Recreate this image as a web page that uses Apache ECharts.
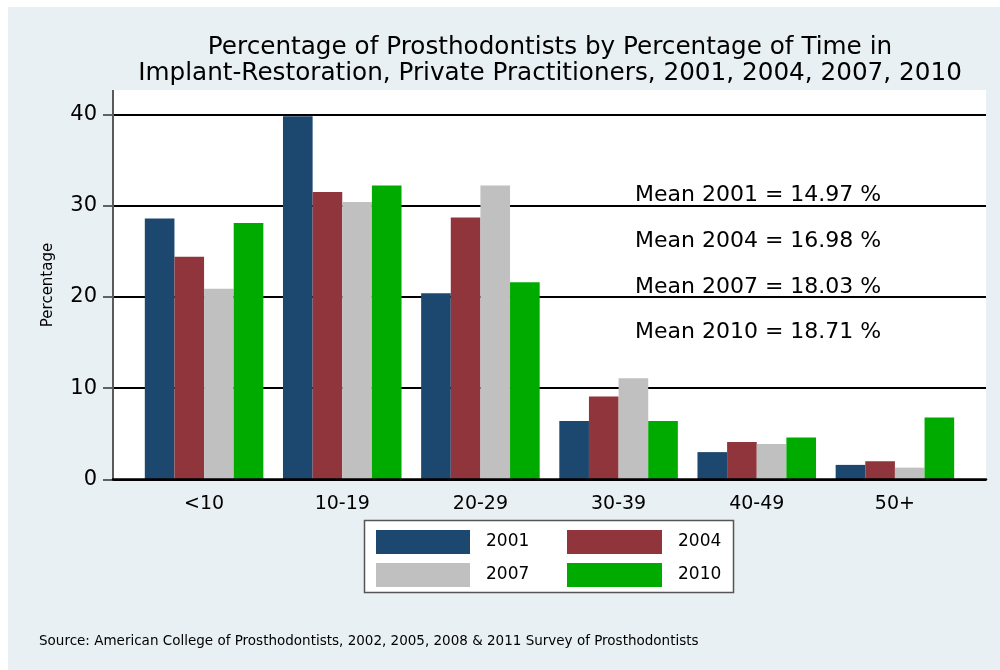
<!DOCTYPE html>
<html>
<head>
<meta charset="utf-8">
<script src="https://cdn.jsdelivr.net/npm/echarts@6/dist/echarts.min.js"></script>
<style>html,body{margin:0;padding:0;background:#fff}#c{width:1000px;height:670px}</style>
</head>
<body>
<div id="c"></div>
<script>
const categories = ['<10', '10-19', '20-29', '30-39', '40-49', '50+'];
const years = ['2001', '2004', '2007', '2010'];
const v2001 = [28.6, 39.8, 20.4, 6.4, 3.0, 1.6];
const v2004 = [24.4, 31.5, 28.7, 9.1, 4.1, 2.0];
const v2007 = [20.9, 30.4, 32.2, 11.1, 3.9, 1.3];
const v2010 = [28.1, 32.2, 21.6, 6.4, 4.6, 6.8];
const yTicks = [0, 10, 20, 30, 40];
const meanLabels = ['Mean 2001 = 14.97 %', 'Mean 2004 = 16.98 %', 'Mean 2007 = 18.03 %', 'Mean 2010 = 18.71 %'];
const titleLines = ['Percentage of Prosthodontists by Percentage of Time in',
  'Implant-Restoration, Private Practitioners, 2001, 2004, 2007, 2010'];
const sourceText = 'Source: American College of Prosthodontists, 2002, 2005, 2008 & 2011 Survey of Prosthodontists';
const yName = 'Percentage';

const colors = ['#1c476f', '#8f353b', '#c0c0c0', '#00ab00'];
const FONT = 'DejaVu Sans';
const seriesData = [v2001, v2004, v2007, v2010];

const chart = echarts.init(document.getElementById('c'));
const gTop = 114.3, gBottom = 190.5;

const graphics = [
  {type: 'rect', z: -10, shape: {x: 8, y: 7, width: 992, height: 663}, style: {fill: '#e8f0f3'}},
  {type: 'rect', z: -9, shape: {x: 113, y: 90, width: 873, height: 390}, style: {fill: '#ffffff'}},
  {type: 'line', z: 5, shape: {x1: 113, y1: 90, x2: 113, y2: 481}, style: {stroke: '#5a5a5a', lineWidth: 2}},
  {type: 'text', z: 5, x: 550, y: 48, style: {text: titleLines[0], font: '24.7px "' + FONT + '"', fill: '#000', align: 'center', verticalAlign: 'middle'}},
  {type: 'text', z: 5, x: 550, y: 74, style: {text: titleLines[1], font: '24.7px "' + FONT + '"', fill: '#000', align: 'center', verticalAlign: 'middle'}},
  {type: 'text', z: 5, x: 48, y: 285, rotation: Math.PI / 2, style: {text: yName, font: '15px "' + FONT + '"', fill: '#000', align: 'center', verticalAlign: 'middle'}},
  {type: 'text', z: 5, x: 39, y: 641, style: {text: sourceText, font: '13.5px "' + FONT + '"', fill: '#000', align: 'left', verticalAlign: 'middle'}},
  {type: 'rect', z: -8, shape: {x: 364.5, y: 520.5, width: 369, height: 72}, style: {fill: '#ffffff', stroke: '#555555', lineWidth: 1.5}}
];
const meanY = [195, 241, 287, 332];
meanLabels.forEach((t, i) => {
  graphics.push({type: 'text', z: 20, x: 635, y: meanY[i], style: {text: t, font: '22px "' + FONT + '"', fill: '#000', align: 'left', verticalAlign: 'middle'}});
});

const option = {
  backgroundColor: '#ffffff',
  animation: false,
  textStyle: {fontFamily: FONT},
  graphic: {elements: graphics},
  grid: [
    {left: 113, right: 14, top: gTop, bottom: gBottom},
    {left: 135, right: 36, top: gTop, bottom: gBottom}
  ],
  xAxis: [
    {gridIndex: 0, type: 'value', min: 0, max: 1, axisLabel: {show: false}, axisTick: {show: false}, splitLine: {show: false},
      axisLine: {show: true, lineStyle: {color: '#000', width: 2.5}}, z: 6},
    {gridIndex: 1, type: 'category', data: categories, axisLine: {show: false}, axisTick: {show: false},
      axisLabel: {fontSize: 19, color: '#000', margin: 15, fontFamily: FONT}}
  ],
  yAxis: [
    {gridIndex: 0, type: 'value', min: yTicks[0], max: yTicks[yTicks.length - 1], interval: yTicks[1] - yTicks[0],
      axisLine: {show: false},
      axisTick: {show: true, length: 10, lineStyle: {color: '#333', width: 1.5}},
      axisLabel: {fontSize: 21, color: '#000', margin: 16, fontFamily: FONT},
      splitLine: {show: true, lineStyle: {color: '#000', width: 2}}},
    {gridIndex: 1, type: 'value', min: yTicks[0], max: yTicks[yTicks.length - 1], interval: yTicks[1] - yTicks[0],
      show: false}
  ],
  legend: [
    {data: [years[0], years[2]], orient: 'vertical', left: 376, top: 530, padding: 0, itemWidth: 94, itemHeight: 24, itemGap: 9,
      icon: 'rect', textStyle: {fontSize: 17, color: '#000', fontFamily: FONT, padding: [0, 0, 0, 11]}, selectedMode: false},
    {data: [years[1], years[3]], orient: 'vertical', left: 567, top: 530, padding: 0, itemWidth: 95, itemHeight: 24, itemGap: 9,
      icon: 'rect', textStyle: {fontSize: 17, color: '#000', fontFamily: FONT, padding: [0, 0, 0, 11]}, selectedMode: false}
  ],
  series: years.map((y, i) => ({
    name: y,
    type: 'bar',
    xAxisIndex: 1,
    yAxisIndex: 1,
    data: seriesData[i],
    barGap: '0%',
    barCategoryGap: '14.2%',
    itemStyle: {color: colors[i]},
    z: 3
  }))
};
chart.setOption(option);
</script>
</body>
</html>
